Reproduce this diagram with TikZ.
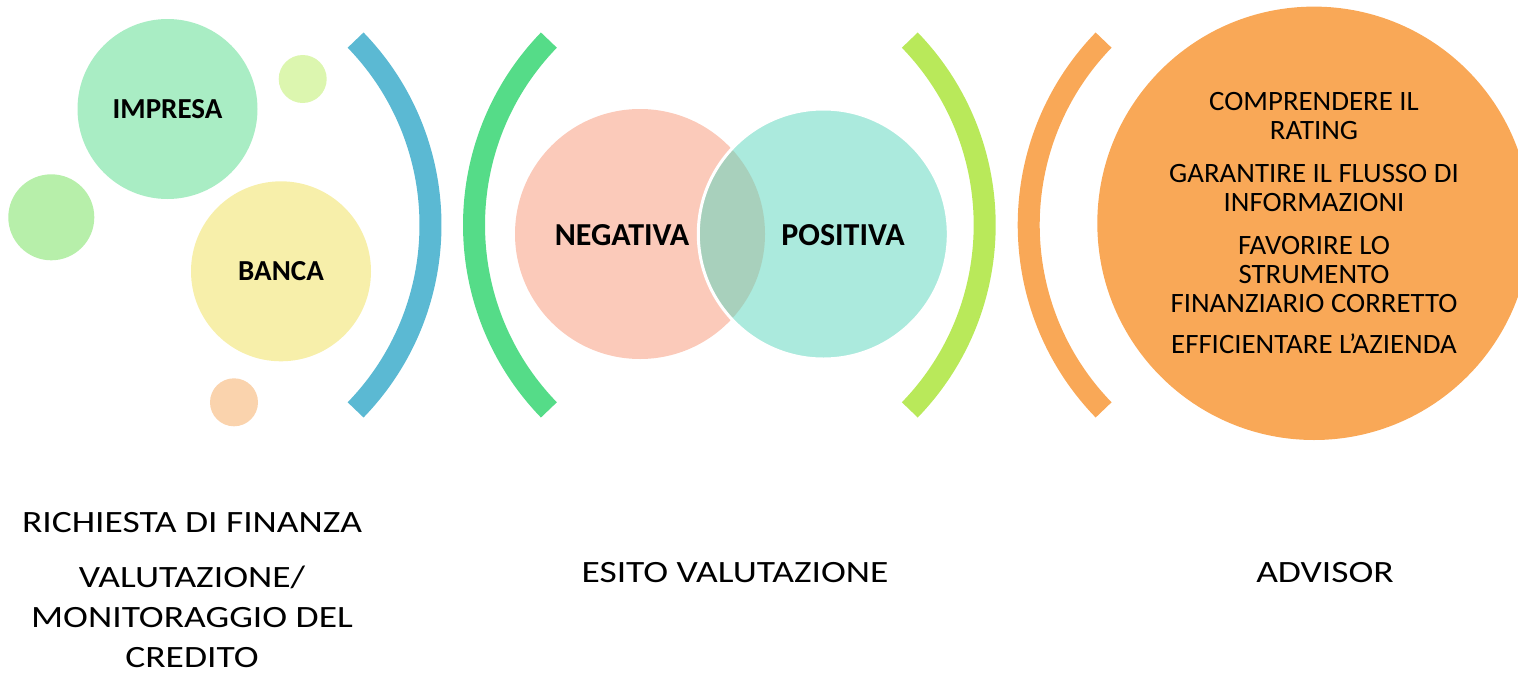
\documentclass[tikz,border=0pt]{standalone}
\usepackage{fontspec}
\setmainfont{Carlito}
\newfontfamily\widefont{Carlito}[FakeStretch=1.21]
\newfontfamily\roundfont{Carlito}[FakeStretch=1.03]

% colours of the picture
\definecolor{cimpresa}{HTML}{A9EDC4}
\definecolor{cbanca}{HTML}{F7EFAA}
\definecolor{cdotlime}{HTML}{DCF6AF}
\definecolor{cdotgreen}{HTML}{B7EFAA}
\definecolor{cdotpeach}{HTML}{FAD3AD}
\definecolor{cneg}{HTML}{FBCABA}
\definecolor{cpos}{HTML}{ABEADD}
\definecolor{coverlap}{HTML}{A8D0BC}
\definecolor{cblue}{HTML}{5BB9D3}
\definecolor{cgreen}{HTML}{55DC88}
\definecolor{clime}{HTML}{B9E95A}
\definecolor{corange}{HTML}{F9A857}

\tikzset{
  bubble/.style={circle, inner sep=0pt, text=black},
  bracketarc/.style={line width=22pt, line cap=butt},
  boldlabel/.style={font=\fontsize{29}{29}\selectfont\bfseries},
  vennlabel/.style={font=\fontsize{32}{32}\selectfont\bfseries},
  caption/.style={font=\widefont\fontsize{31}{40}\selectfont, align=center},
}

\begin{document}
\begin{tikzpicture}[x=1pt,y=1pt]
  \useasboundingbox (0,0) rectangle (1518,-683);

  % Bubbles of the first block
  \node[bubble, fill=cimpresa, minimum size=180pt, boldlabel] (impresa) at (167.5,-109) {IMPRESA};
  \node[bubble, fill=cdotlime, minimum size=48pt] (dottop) at (302.7,-79) {};
  \node[bubble, fill=cdotgreen, minimum size=86pt] (dotleft) at (51.3,-217.3) {};
  \node[bubble, fill=cbanca, minimum size=180pt, boldlabel] (banca) at (281,-271.3) {BANCA};
  \node[bubble, fill=cdotpeach, minimum size=48pt] (dotlow) at (234,-402.3) {};

  % Bracket ) blue
  \draw[bracketarc, cblue] (164.8,-225) ++(44.1:265.7) arc[start angle=44.1, end angle=-44.1, radius=265.7];

  % Bracket ( green
  \draw[bracketarc, cgreen] (739.7,-225) ++(135.9:265.7) arc[start angle=135.9, end angle=224.1, radius=265.7];

  % Venn of the two outcomes
  \node[bubble, fill=cneg, minimum size=250pt] (negativa) at (640,-234) {};
  \node[bubble, fill=cpos, minimum size=250pt] (positiva) at (823.3,-234) {};
  \begin{scope}
    \clip (negativa.center) circle[radius=125];
    \fill[coverlap] (positiva.center) circle[radius=125];
  \end{scope}
  \draw[white, line width=3pt] (positiva.center) circle[radius=125];
  \node[vennlabel] (negtext) at (622,-235) {NEGATIVA};
  \node[vennlabel] (postext) at (843,-235) {POSITIVA};

  % Bracket ) lime
  \draw[bracketarc, clime] (719,-225) ++(44.1:265.7) arc[start angle=44.1, end angle=-44.1, radius=265.7];

  % Bracket ( orange
  \draw[bracketarc, corange] (1294.4,-225) ++(135.9:265.7) arc[start angle=135.9, end angle=224.1, radius=265.7];

  % Advisor circle
  \node[bubble, fill=corange, minimum size=433.4pt, align=center,
        font=\roundfont\fontsize{28}{28.7}\selectfont] (advisorball) at (1314,-223.3)
    {COMPRENDERE IL\\RATING\\[14.5pt]
     GARANTIRE IL FLUSSO DI\\INFORMAZIONI\\[14.5pt]
     FAVORIRE LO\\STRUMENTO\\FINANZIARIO CORRETTO\\[13pt]
     EFFICIENTARE L’AZIENDA};

  % Captions below
  \node[caption] (capfirst) at (192,-590.5)
    {RICHIESTA DI FINANZA\\[15pt]VALUTAZIONE/\\MONITORAGGIO DEL\\CREDITO};
  \node[caption] (capmid) at (735,-573) {ESITO VALUTAZIONE};
  \node[caption] (caplast) at (1325,-573) {ADVISOR};
\end{tikzpicture}
\end{document}
